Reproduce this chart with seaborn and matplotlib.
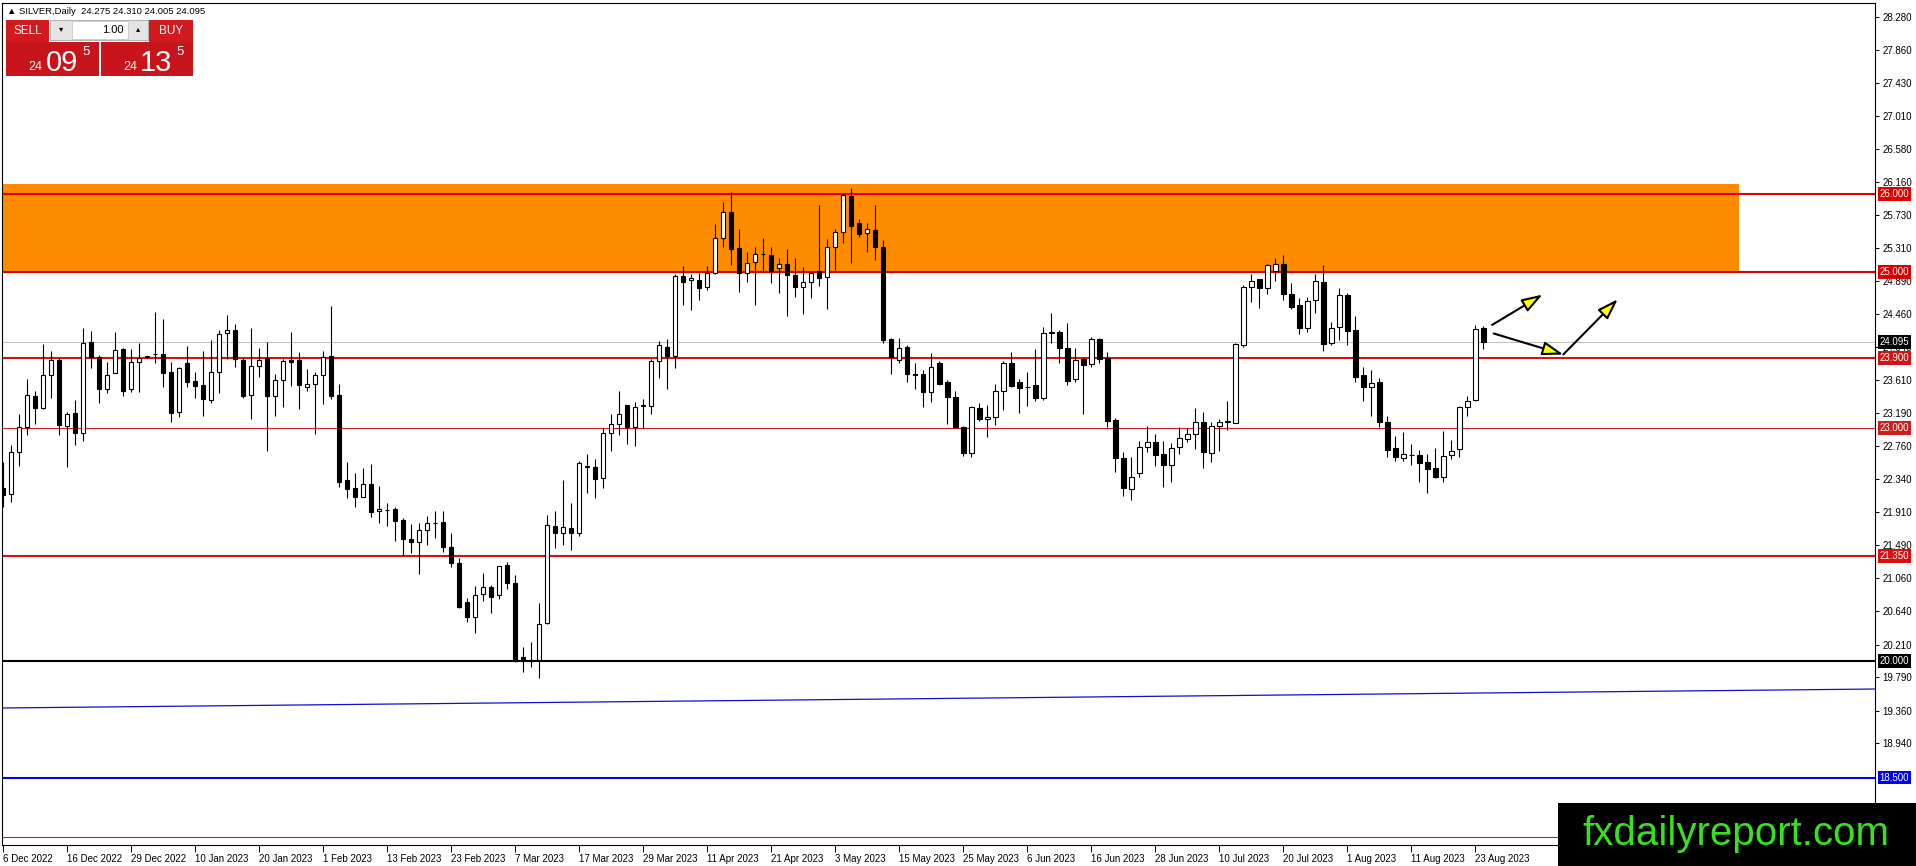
import numpy as np
import pandas as pd
import matplotlib.pyplot as plt
import matplotlib.transforms as mtransforms
from matplotlib.patches import Rectangle
import seaborn as sns

W, H = 1916, 866

# daily bars, one per trading day, oldest first
opens = [22.22, 22.145, 22.69, 23.01, 23.406, 23.256, 23.672, 23.869, 23.024, 23.183,
         22.934, 24.096, 23.911, 23.50, 23.697, 24.01, 23.492, 23.839, 23.905, 23.94,
         23.942, 23.714, 23.196, 23.826, 23.599, 23.547, 23.35, 23.71, 24.212, 24.255,
         23.869, 23.414, 23.787, 23.89, 23.401, 23.611, 23.869, 23.869, 23.526, 23.556,
         23.672, 23.92, 23.419, 22.321, 22.218, 22.111, 22.27, 21.922, 21.94, 21.952,
         21.811, 21.567, 21.524, 21.682, 21.77, 21.781, 21.459, 21.254, 20.752, 20.568,
         20.855, 20.945, 20.842, 21.228, 20.996, 20.045, 20.01, 20.01, 20.482, 21.734,
         21.64, 21.713, 21.64, 22.497, 22.489, 22.347, 22.926, 23.042, 23.29, 23.012,
         23.28, 23.282, 23.856, 24.041, 23.925, 24.95, 24.898, 24.898, 24.812, 24.984,
         25.434, 25.773, 25.305, 24.992, 25.134, 25.23, 25.22, 25.048, 25.104, 24.962,
         24.812, 24.877, 25.018, 24.941, 25.318, 25.52, 25.983, 25.635, 25.498, 25.541,
         25.318, 24.139, 23.869, 24.041, 23.685, 23.689, 23.453, 23.826, 23.582, 23.398,
         23.012, 22.677, 23.248, 23.106, 23.14, 23.47, 23.826, 23.591, 23.525, 23.548,
         23.376, 24.22, 24.225, 24.019, 23.62, 23.882, 23.813, 24.135, 23.891, 23.097,
         22.604, 22.21, 22.411, 22.746, 22.81, 22.656, 22.519, 22.746, 22.849, 22.917,
         23.076, 22.677, 23.025, 23.07, 23.063, 24.062, 24.804, 24.906, 24.791, 25.018,
         25.104, 24.718, 24.576, 24.285, 24.641, 24.877, 24.083, 24.298, 24.705, 24.255,
         23.676, 23.526, 23.582, 23.067, 22.733, 22.613, 22.65, 22.647, 22.553, 22.476,
         22.369, 22.647, 22.72, 23.26, 23.355, 24.275]
highs = [22.56, 22.78, 23.17, 23.624, 23.47, 24.074, 23.985, 23.89, 23.196, 23.354,
         24.285, 24.242, 23.933, 23.847, 24.229, 24.019, 24.006, 24.092, 23.92, 24.482,
         24.396, 23.847, 23.774, 24.049, 23.714, 23.985, 24.126, 24.255, 24.447, 24.332,
         23.89, 24.276, 24.019, 24.096, 23.684, 23.877, 24.225, 23.972, 23.749, 23.71,
         23.985, 24.568, 23.556, 22.557, 22.415, 22.475, 22.531, 22.248, 22.025, 21.974,
         21.832, 21.755, 21.768, 21.862, 21.931, 21.931, 21.639, 21.326, 20.804, 20.966,
         21.125, 20.975, 21.225, 21.266, 21.104, 20.173, 20.246, 20.739, 21.875, 21.931,
         22.325, 22.026, 22.575, 22.66, 22.592, 22.999, 23.175, 23.475, 23.295, 23.325,
         23.368, 23.878, 24.114, 24.139, 24.975, 25.078, 24.975, 24.992, 25.078, 25.618,
         25.906, 26.026, 25.554, 25.262, 25.327, 25.434, 25.327, 25.185, 25.297, 25.177,
         25.07, 25.0, 25.863, 25.421, 25.55, 26.021, 26.086, 25.683, 25.635, 25.863,
         25.413, 24.148, 24.148, 24.062, 23.826, 23.741, 23.955, 23.86, 23.612, 23.47,
         23.02, 23.282, 23.312, 23.29, 23.556, 23.86, 23.976, 23.621, 23.719, 24.011,
         24.289, 24.469, 24.255, 24.341, 24.019, 23.891, 24.16, 24.148, 23.976, 23.119,
         22.682, 22.626, 22.832, 23.025, 22.917, 22.827, 22.797, 23.012, 22.99, 23.247,
         23.205, 23.076, 23.106, 23.342, 24.083, 24.834, 24.971, 24.91, 25.104, 25.177,
         25.219, 24.855, 24.662, 24.675, 24.971, 25.091, 24.362, 24.791, 24.726, 24.435,
         23.783, 23.74, 23.633, 23.149, 22.892, 22.947, 22.789, 22.712, 22.66, 22.733,
         22.956, 22.84, 23.278, 23.406, 24.319, 24.31]
lows = [21.98, 22.047, 22.50, 22.904, 23.046, 23.243, 23.384, 22.904, 22.497, 22.776,
        22.831, 23.77, 23.32, 23.449, 23.697, 23.406, 23.462, 23.462, 23.90, 23.826,
        23.526, 23.067, 23.14, 23.526, 23.376, 23.149, 23.311, 23.44, 23.877, 23.774,
        23.376, 23.106, 23.654, 22.703, 23.149, 23.268, 23.539, 23.238, 23.47, 22.917,
        23.303, 23.363, 22.231, 22.09, 21.982, 22.105, 21.854, 21.777, 21.738, 21.545,
        21.361, 21.382, 21.116, 21.49, 21.575, 21.395, 21.211, 20.683, 20.503, 20.362,
        20.773, 20.619, 20.79, 20.923, 19.98, 19.86, 19.925, 19.775, 20.48, 21.447,
        21.49, 21.426, 21.61, 22.163, 22.099, 22.219, 22.703, 22.905, 22.789, 22.767,
        22.99, 23.175, 23.642, 23.496, 23.771, 24.577, 24.512, 24.641, 24.77, 24.975,
        25.327, 25.091, 24.748, 24.877, 24.577, 25.005, 24.855, 24.735, 24.439, 24.675,
        24.457, 24.671, 24.821, 24.525, 25.027, 25.378, 25.112, 25.447, 25.262, 25.155,
        24.084, 23.689, 23.826, 23.582, 23.492, 23.269, 23.333, 23.548, 23.046, 22.99,
        22.639, 22.626, 23.089, 22.875, 23.033, 23.226, 23.518, 23.192, 23.282, 23.346,
        23.355, 24.083, 23.826, 23.548, 23.59, 23.17, 23.775, 23.835, 23.012, 22.433,
        22.124, 22.069, 22.369, 22.69, 22.51, 22.231, 22.296, 22.656, 22.819, 22.72,
        22.476, 22.562, 22.703, 22.969, 23.054, 24.041, 24.619, 24.542, 24.714, 24.889,
        24.641, 24.525, 24.203, 24.233, 24.469, 23.989, 24.062, 24.126, 24.062, 23.59,
        23.346, 23.153, 23.012, 22.617, 22.574, 22.574, 22.519, 22.304, 22.163, 22.347,
        22.296, 22.592, 22.617, 23.153, 23.346, 24.005]
closes = [22.13, 22.68, 23.01, 23.414, 23.256, 23.676, 23.869, 23.033, 23.174, 22.934,
          24.083, 23.911, 23.50, 23.672, 23.993, 23.474, 23.843, 23.89, 23.915, 23.95,
          23.706, 23.183, 23.762, 23.59, 23.539, 23.363, 23.714, 24.203, 24.25, 23.877,
          23.406, 23.787, 23.869, 23.41, 23.611, 23.856, 23.847, 23.547, 23.556, 23.672,
          23.911, 23.406, 22.304, 22.205, 22.102, 22.27, 21.918, 21.952, 21.945, 21.802,
          21.562, 21.524, 21.682, 21.768, 21.775, 21.459, 21.254, 20.696, 20.559, 20.846,
          20.945, 20.825, 21.219, 20.996, 20.002, 19.993, 19.995, 20.469, 21.742, 21.64,
          21.717, 21.64, 22.54, 22.50, 22.334, 22.926, 23.042, 23.17, 23.012, 23.26,
          23.29, 23.856, 24.058, 23.925, 24.95, 24.877, 24.924, 24.80, 24.984, 25.434,
          25.773, 25.292, 24.992, 25.121, 25.228, 25.235, 25.018, 25.10, 24.958, 24.812,
          24.868, 24.992, 24.928, 25.318, 25.511, 25.991, 25.593, 25.49, 25.55, 25.327,
          24.126, 23.912, 24.028, 23.689, 23.68, 23.453, 23.783, 23.56, 23.389, 23.012,
          22.677, 23.26, 23.106, 23.132, 23.47, 23.826, 23.539, 23.513, 23.52, 23.376,
          24.212, 24.225, 24.019, 23.603, 23.869, 23.805, 24.135, 23.878, 23.089, 22.604,
          22.219, 22.369, 22.746, 22.81, 22.647, 22.519, 22.733, 22.862, 22.917, 23.067,
          22.682, 23.025, 23.076, 23.08, 24.071, 24.804, 24.885, 24.791, 25.091, 25.10,
          24.714, 24.555, 24.285, 24.628, 24.885, 24.071, 24.276, 24.705, 24.246, 23.655,
          23.518, 23.569, 23.076, 22.712, 22.626, 22.656, 22.645, 22.549, 22.463, 22.369,
          22.639, 22.703, 23.26, 23.346, 24.264, 24.095]

date_labels = ["6 Dec 2022", "16 Dec 2022", "29 Dec 2022", "10 Jan 2023", "20 Jan 2023",
               "1 Feb 2023", "13 Feb 2023", "23 Feb 2023", "7 Mar 2023", "17 Mar 2023",
               "29 Mar 2023", "11 Apr 2023", "21 Apr 2023", "3 May 2023", "15 May 2023",
               "25 May 2023", "6 Jun 2023", "16 Jun 2023", "28 Jun 2023", "10 Jul 2023",
               "20 Jul 2023", "1 Aug 2023", "11 Aug 2023", "23 Aug 2023"]
date_bars = list(range(0, 185, 8))

price_ticks = [28.28, 27.86, 27.43, 27.01, 26.58, 26.16, 25.73, 25.31, 24.89, 24.46,
               24.04, 23.61, 23.19, 22.76, 22.34, 21.91, 21.49, 21.06, 20.64, 20.21,
               19.79, 19.36, 18.94]

# horizontal levels: value, colour, width (pt), tag shown on the price scale
level_values = [26.0, 25.0, 23.9, 23.0, 21.35, 20.0, 18.5, 17.73]
level_colors = ["#e00000", "#d80000", "#d01515", "#cc2020", "#d81010", "black", "#0000ee", "#cc2020"]
level_widths = [1.5, 1.5, 1.5, 0.8, 1.5, 1.5, 1.5, 0.8]
level_tagged = [True, True, True, True, True, True, True, False]
bid = 24.095

zone_low, zone_high, zone_end = 25.0, 26.13, 216.9
trend_x = [0, 234]
trend_y = [19.394, 19.638]

# hand drawn arrows (bar index, price)
arrow_from = [(186.1, 24.32), (186.3, 24.21), (195.0, 23.94)]
arrow_to = [(192.4, 24.71), (195.0, 23.94), (201.8, 24.65)]

sns.set_theme(style="white")
plt.rcParams["font.family"] = ["Liberation Sans", "DejaVu Sans"]

bars = pd.DataFrame({"open": opens, "high": highs, "low": lows, "close": closes})
bars["bar"] = np.arange(len(bars))
bars["up"] = bars["close"] >= bars["open"]

fig = plt.figure(figsize=(W / 100, H / 100), dpi=100)
ax = fig.add_axes([2 / W, 1 - 845 / H, 1873 / W, 842 / H])
ax.set_facecolor("white")

ax.add_patch(Rectangle((-5, zone_low), zone_end + 5, zone_high - zone_low,
                       facecolor="#ff8c00", edgecolor="none", zorder=1))
ax.axhline(bid, color="#c0c0c0", lw=0.8, zorder=1.5)
for v, c, w in zip(level_values, level_colors, level_widths):
    ax.axhline(v, color=c, lw=w, zorder=2)
sns.lineplot(x=trend_x, y=trend_y, ax=ax, color="#1010c8", lw=0.9, zorder=2)

ax.vlines(bars["bar"], bars["low"], bars["high"], color="black", lw=0.8, zorder=3)
ax.bar(bars["bar"], bars["close"] - bars["open"], bottom=bars["open"], width=0.55,
       color=np.where(bars["up"], "white", "black"), edgecolor="black", linewidth=0.8, zorder=4)

for (x0, y0), (x1, y1) in zip(arrow_from, arrow_to):
    ax.annotate("", xy=(x1, y1), xytext=(x0, y0), zorder=6,
                arrowprops=dict(arrowstyle="-|>,head_length=0.9,head_width=0.3",
                                mutation_scale=14, fc="#ffff00", ec="black", lw=1.5,
                                shrinkA=0, shrinkB=0))

ax.set_xlim(-0.16, 233.96)
ax.set_ylim(17.632, 28.46)
ax.set_xlabel("")
ax.set_ylabel("")
ax.grid(False)
for s in ax.spines.values():
    s.set_color("black")
    s.set_linewidth(0.8)

ax.yaxis.tick_right()
ax.set_yticks(price_ticks)
ax.set_yticklabels([f"{v:.3f}" for v in price_ticks])
ax.tick_params(axis="y", right=True, left=False, labelright=True, labelleft=False,
               length=3, width=0.7, pad=2.5, labelsize=7, colors="black")
ax.set_xticks(date_bars)
ax.set_xticklabels(date_labels, ha="left")
ax.tick_params(axis="x", bottom=True, length=5, width=0.7, pad=1.5, labelsize=7, colors="black")

# price tags on the right scale
tag_tr = mtransforms.blended_transform_factory(ax.transAxes, ax.transData)
tags = [(v, c) for v, c, t in zip(level_values, level_colors, level_tagged) if t]
tags.append((bid, "black"))
for v, c in tags:
    ax.text(1.0024, v, f"{v:.3f}", transform=tag_tr, ha="left", va="center",
            fontsize=7, color="white", zorder=10, clip_on=False,
            bbox=dict(boxstyle="square,pad=0.2", fc=c, ec="none"))


def box(x0, y0, x1, y1, **kw):
    fig.add_artist(Rectangle((x0 / W, 1 - y1 / H), (x1 - x0) / W, (y1 - y0) / H,
                             transform=fig.transFigure, **kw))


def label(x, y, s, **kw):
    fig.text(x / W, 1 - y / H, s, **kw)


# symbol header and one click trading panel
label(7, 11, "\u25b2 SILVER,Daily  24.275 24.310 24.005 24.095", fontsize=6.8,
      va="center", ha="left", color="black")
red = "#c8141b"
box(6, 20, 49, 42, facecolor="#d11a20", edgecolor="none")
box(149, 20, 193, 42, facecolor="#d11a20", edgecolor="none")
box(6, 42, 99, 76, facecolor=red, edgecolor="none")
box(101, 42, 193, 76, facecolor=red, edgecolor="none")
box(50, 20, 148, 40, facecolor="#e4e4e4", edgecolor="#a8a8a8", lw=0.6)
box(72, 21, 128, 39, facecolor="white", edgecolor="#c0c0c0", lw=0.5)
label(27.5, 31, "SELL", fontsize=8.5, color="white", ha="center", va="center")
label(171, 31, "BUY", fontsize=8.5, color="white", ha="center", va="center")
label(124, 30, "1.00", fontsize=8, color="black", ha="right", va="center")
label(61, 30, "\u25be", fontsize=6, color="black", ha="center", va="center")
label(138, 30, "\u25b4", fontsize=6, color="black", ha="center", va="center")
label(42, 70, "24", fontsize=9, color="white", ha="right", va="baseline")
label(46, 71, "09", fontsize=21, color="white", ha="left", va="baseline")
label(82, 46, "5", fontsize=9.5, color="white", ha="left", va="top")
label(137, 70, "24", fontsize=9, color="white", ha="right", va="baseline")
label(140, 71, "13", fontsize=21, color="white", ha="left", va="baseline")
label(176, 46, "5", fontsize=9.5, color="white", ha="left", va="top")

# watermark
box(1558, 803, 1916, 866, facecolor="black", edgecolor="none")
label(1736, 834, "fxdailyreport.com", fontsize=29, color="#36e21b", ha="center", va="center")

fig.savefig("out.png", dpi=100)
